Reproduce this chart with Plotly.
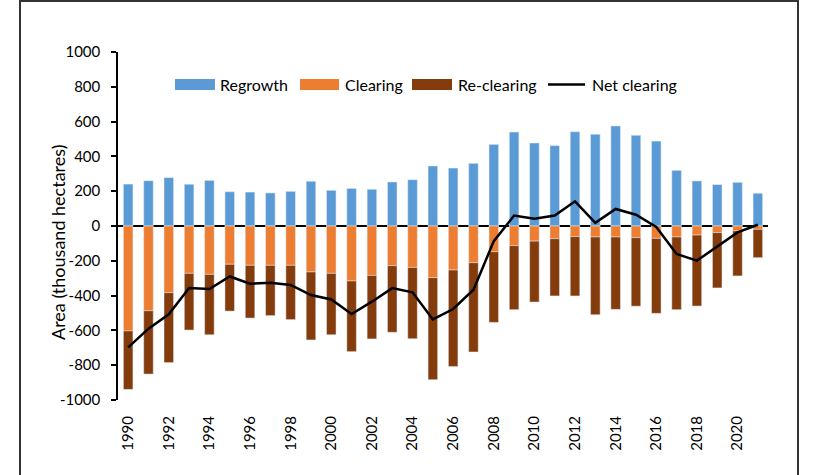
import plotly.graph_objects as go

years = list(range(1990, 2022))
regrowth = [241, 260, 278, 240, 262, 197, 195, 190, 199, 257, 205, 216, 211, 253, 266,
            345, 333, 360, 469, 540, 477, 462, 542, 527, 575, 521, 488, 320, 259, 238, 251, 188]
clearing = [-603, -487, -383, -272, -278, -220, -226, -226, -226, -264, -272, -316, -284, -228, -238,
            -297, -253, -211, -148, -113, -87, -73, -61, -63, -63, -67, -71, -63, -52, -38, -27, -19]
reclearing = [-336, -364, -402, -326, -347, -269, -303, -289, -312, -391, -353, -406, -365, -383, -410,
              -586, -555, -513, -406, -368, -350, -329, -341, -447, -416, -394, -431, -418, -408, -318, -260, -163]
net_clearing = [-698, -590, -507, -356, -362, -290, -332, -326, -339, -397, -422, -506, -435, -357, -381,
                -537, -477, -366, -87, 60, 42, 60, 142, 18, 98, 65, -6, -161, -199, -118, -37, 7]

y_ticks = list(range(-1000, 1001, 200))
x_ticks = list(range(1990, 2021, 2))

BLUE = "#5B9BD5"
ORANGE = "#ED7D31"
BROWN = "#843C0C"
FONT = "Lato"

fig = go.Figure()
fig.add_trace(go.Bar(x=years, y=regrowth, name="Regrowth", marker_color=BLUE, width=0.47))
fig.add_trace(go.Bar(x=years, y=clearing, name="Clearing", marker_color=ORANGE, width=0.47))
fig.add_trace(go.Bar(x=years, y=reclearing, name="Re-clearing", marker_color=BROWN, width=0.47))
fig.add_trace(go.Scatter(x=years, y=net_clearing, name="Net clearing", mode="lines",
                         line=dict(color="black", width=2.5)))

# plot area geometry in pixels
L, R, T, B = 118, 768, 52, 400
W, H = R - L, B - T

def px(x):
    return (x - L) / W

def py(y):
    return (B - y) / H

shapes = []
annotations = []

# outer frame
shapes.append(dict(type="rect", xref="paper", yref="paper",
                   x0=px(20), x1=px(798), y0=py(480), y1=py(1),
                   line=dict(color="#333333", width=2), fillcolor="rgba(0,0,0,0)", layer="below"))

# manual legend
leg_y0, leg_y1 = py(90), py(79)
items = [("Regrowth", BLUE, 175, 215, 218, "bar"),
         ("Clearing", ORANGE, 300, 339, 343, "bar"),
         ("Re-clearing", BROWN, 412, 452, 456, "bar"),
         ("Net clearing", "black", 548, 585, 590, "line")]
for label, col, s0, s1, tx, kind in items:
    if kind == "bar":
        shapes.append(dict(type="rect", xref="paper", yref="paper",
                           x0=px(s0), x1=px(s1), y0=leg_y0, y1=leg_y1,
                           line=dict(width=0), fillcolor=col))
    else:
        shapes.append(dict(type="line", xref="paper", yref="paper",
                           x0=px(s0), x1=px(s1), y0=py(84.5), y1=py(84.5),
                           line=dict(color=col, width=2.5)))
    annotations.append(dict(text=label, xref="paper", yref="paper", x=px(tx), y=py(84),
                            xanchor="left", yanchor="middle", showarrow=False,
                            font=dict(family=FONT, size=16, color="black")))

# y-axis title
annotations.append(dict(text="Area (thousand hectares)", xref="paper", yref="paper",
                        x=px(58), y=py(242), xanchor="center", yanchor="middle",
                        textangle=-90, showarrow=False,
                        font=dict(family=FONT, size=18, color="black")))

fig.update_layout(
    width=817, height=475,
    margin=dict(l=L, r=817 - R, t=T, b=475 - B, pad=0),
    paper_bgcolor="white", plot_bgcolor="white",
    barmode="relative", bargap=0.53,
    showlegend=False,
    font=dict(family=FONT, size=15, color="black"),
    shapes=shapes, annotations=annotations,
    xaxis=dict(range=[1989.5, 2021.5], tickmode="array", tickvals=x_ticks,
               ticktext=[str(v) for v in x_ticks], tickangle=-90,
               showgrid=False, zeroline=False, showline=False, ticks="",
               ticklabelstandoff=12, tickfont=dict(family=FONT, size=15, color="black")),
    yaxis=dict(range=[-1000, 1000], tickmode="array", tickvals=y_ticks,
               ticktext=[str(v) for v in y_ticks],
               showgrid=False, zeroline=True, zerolinecolor="black", zerolinewidth=1.5,
               showline=True, linecolor="black", linewidth=1.5,
               ticks="outside", ticklen=5, tickcolor="black", tickwidth=1.5,
               ticklabelstandoff=8, tickfont=dict(family=FONT, size=15, color="black")),
)

fig.write_html("out.html")
